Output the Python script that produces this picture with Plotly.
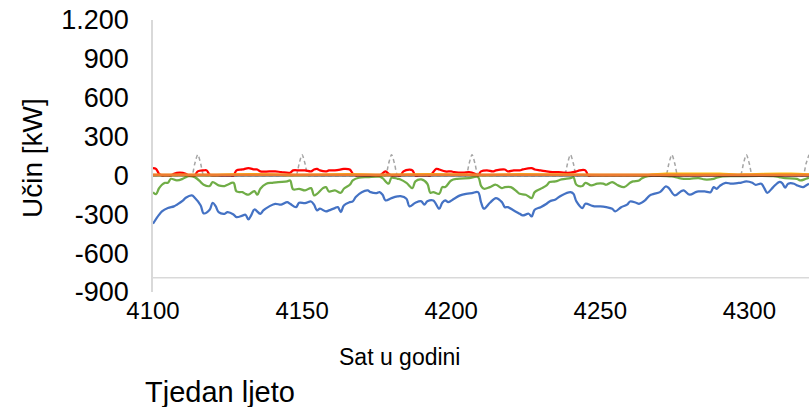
import plotly.graph_objects as go

BASE = 4100

# ---- data (hour offsets from 4100, values in kW) ----
blue_h = [0,2,3,5,7,8,10,11,13,14,16,17,19,20,21,22,24,25,27,28,30,31,32,33,34,36,37,39,41,43,45,46,48,49,51,53,54,55,
          56,58,59,61,62,63,64,66,67,68,70,72,73,75,76,77,78,80,82,83,85,86,88,90,91,92,94,96,97,98,99,101,103,105,107,109,
          110,111,113,115,117,118,119,121,123,124,126,127,128,130,132,133,135,137,140,141,142,144,145,147,148,150,152,154,
          155,157,159,160,162,163,165,166,167,168,170,172,173,175,177,178,180,182,183,185,187,188,189,190,192,194,196,197,
          199,201,202,204,205,206,208,210,211,212,213,215,216,218,219,220]
blue_v = [-373,-305,-278,-252,-239,-226,-195,-172,-154,-172,-232,-293,-265,-211,-237,-283,-296,-283,-301,-322,-310,-304,-340,-304,-263,-296,-270,-239,-219,-226,-206,-219,-245,-211,-214,-201,-226,-270,
          -257,-278,-270,-252,-245,-283,-232,-206,-200,-167,-129,-116,-129,-136,-129,-149,-193,-175,-162,-160,-180,-239,-211,-200,-226,-200,-193,-257,-211,-193,-206,-180,-154,-142,-136,-129,
          -206,-257,-211,-175,-206,-245,-245,-270,-296,-309,-296,-317,-265,-245,-219,-201,-185,-154,-129,-142,-201,-252,-219,-232,-239,-239,-245,-257,
          -278,-245,-226,-201,-211,-219,-193,-167,-150,-142,-129,-85,-98,-154,-124,-116,-149,-129,-124,-124,-129,-90,-103,-82,-57,-64,-59,-57,
          -46,-57,-72,-64,-98,-134,-90,-51,-59,-95,-64,-64,-77,-90,-77,-64]

green_h = [0,1,2,3,4,5,6,8,10,11,12,14,16,17,19,20,22,24,25,27,28,30,31,32,34,35,36,38,40,42,45,46,47,49,51,53,54,55,57,58,59,61,63,64,
           66,67,69,72,76,77,79,80,82,83,85,87,88,90,92,93,94,96,97,98,100,102,106,109,110,111,113,115,117,118,120,122,123,125,127,128,
           130,132,133,135,137,140,141,142,144,145,147,149,151,152,154,156,158,160,161,163,164,166,170,174,176,178,180,183,185,188,189,191,
           195,208,210,212,216,217,219,220]
green_v = [-129,-145,-100,-72,-57,-57,-26,-39,-26,-13,-5,-13,-51,-72,-82,-51,-77,-82,-72,-57,-124,-129,-142,-149,-121,-149,-103,-64,-57,-51,-46,-39,-108,-103,-116,-98,-154,-142,-98,-90,-124,-116,-134,-103,
           -72,-39,-18,-13,-10,-21,-64,-18,-26,-31,-57,-98,-46,-31,-64,-134,-129,-142,-90,-90,-39,-26,-21,-13,-80,-103,-90,-72,-98,-90,-90,-124,-142,-149,-175,-129,
           -103,-77,-51,-46,-31,-21,-15,-72,-82,-57,-77,-64,-64,-72,-51,-77,-90,-57,-46,-39,-21,-5,-3,-8,-18,-26,-26,-21,-31,-26,-18,-8,
           -5,-5,-13,-21,-26,-39,-26,-18]

red_h = [0,1,2,3,4,5,6,7,9,11,12,13,14,15,17,18,19,20,21,25,26,27,28,30,32,34,35,36,39,41,43,46,47,49,51,53,54,55,56,58,59,61,63,64,66,67,68,
         69,75,76,78,79,80,81,82,83,84,86,87,88,89,92,93,95,96,98,100,101,104,106,108,109,110,112,114,115,118,119,121,123,124,127,128,130,132,134,136,
         138,140,142,143,145,146,147,220]
red_v = [57,51,13,0,0,0,0,13,21,13,0,0,0,31,39,39,5,0,0,0,0,0,39,46,57,46,46,31,31,31,26,21,39,39,39,31,46,51,39,31,39,39,46,51,46,13,0,
         0,0,0,31,13,0,0,0,0,31,44,39,0,0,0,0,51,46,31,31,26,21,26,13,0,31,39,31,39,46,31,39,39,46,57,46,39,31,26,26,
         21,21,31,39,39,0,0,0]

yellow_h = [0,20,26,40,46,60,70,76,86,100,110,120,130,150,166,172,180,190,196,200,210,214,220]
yellow_v = [4,4,8,8,4,8,8,4,8,8,4,8,8,4,4,12,12,12,6,8,12,12,8]

orange_h = [0, 220]
orange_v = [6, 6]

black_h = [0, 220]
black_v = [0, 0]

gray_h = [0,12,13,14,15,16,17,18,47,48,49,50,51,52,53,77,78,79,80,81,82,83,104,105,106,107,108,109,110,137,138,139,140,141,142,143,
          171,172,173,174,175,176,177,196,197,198,199,200,201,202,217,218,219,220]
gray_v = [0,0,0,90,160,90,0,0,0,0,90,160,90,0,0,0,0,90,160,90,0,0,0,0,90,160,90,0,0,0,0,90,160,90,0,0,
          0,0,90,160,90,0,0,0,0,90,160,90,0,0,0,0,90,160]

y_tick_vals = [-900, -600, -300, 0, 300, 600, 900, 1200]
y_tick_text = ["-900", "-600", "-300", "0", "300", "600", "900", "1.200"]
x_tick_vals = [4100, 4150, 4200, 4250, 4300]

FONT = "Arial, Liberation Sans, sans-serif"

def hrs(h):
    return [BASE + v for v in h]

fig = go.Figure()

def add(h, v, color, width, dash=None, shape="spline", smoothing=1.0):
    line = dict(color=color, width=width, dash=dash, shape=shape)
    if shape == "spline":
        line["smoothing"] = smoothing
    fig.add_trace(go.Scatter(x=hrs(h), y=v, mode="lines", line=line, cliponaxis=True,
                             hoverinfo="skip", showlegend=False))

add(gray_h, gray_v, "#A5A5A5", 1.5, dash="4px,3px", smoothing=0.8)
add(blue_h, blue_v, "#4472C4", 2.25)
add(green_h, green_v, "#70AD47", 2.25)
add(red_h, red_v, "#FF0000", 2.25)
add(black_h, black_v, "#262626", 2, shape="linear")
add(yellow_h, yellow_v, "#FFC000", 2.5)
add(orange_h, orange_v, "#ED7D31", 2.5, shape="linear")

fig.update_layout(
    width=809, height=407,
    margin=dict(l=153, r=0, t=20, b=115, autoexpand=False),
    paper_bgcolor="white", plot_bgcolor="white",
    showlegend=False,
    font=dict(family=FONT, color="#000000"),
    xaxis=dict(range=[4100, 4320], tickvals=x_tick_vals, showgrid=False, zeroline=False,
               showline=False, ticks="", tickfont=dict(size=24, color="#000000", family=FONT),
               ticklabelstandoff=2, automargin=False, ticklabeloverflow="allow"),
    yaxis=dict(range=[-900, 1200], tickvals=y_tick_vals, ticktext=y_tick_text, showgrid=False,
               zeroline=False, showline=True, linecolor="#D9D9D9", linewidth=1.5, ticks="",
               tickfont=dict(size=27, color="#000000", family=FONT), ticklabelstandoff=17,
               automargin=False, ticklabeloverflow="allow"),
    shapes=[dict(type="line", xref="paper", x0=0, x1=1, yref="y", y0=-790, y1=-790,
                 line=dict(color="#D9D9D9", width=1.5), layer="below")],
    annotations=[
        dict(text="Učin [kW]", xref="paper", yref="paper", x=-0.1845, y=0.4926, textangle=-90,
             showarrow=False, font=dict(size=28, family=FONT, color="#000000"), xanchor="center", yanchor="middle"),
        dict(text="Sat u godini", xref="paper", yref="paper", x=0.3765, y=-0.239, showarrow=False,
             font=dict(size=23, family=FONT, color="#000000"), xanchor="center", yanchor="middle"),
        dict(text="Tjedan ljeto", xref="paper", yref="paper", x=-0.0152, y=-0.3676, showarrow=False,
             font=dict(size=29, family=FONT, color="#000000"), xanchor="left", yanchor="middle"),
    ],
)

fig.write_html("out.html", config={"displayModeBar": False},
               post_script="document.body.style.margin='0';document.body.style.overflow='hidden';")
